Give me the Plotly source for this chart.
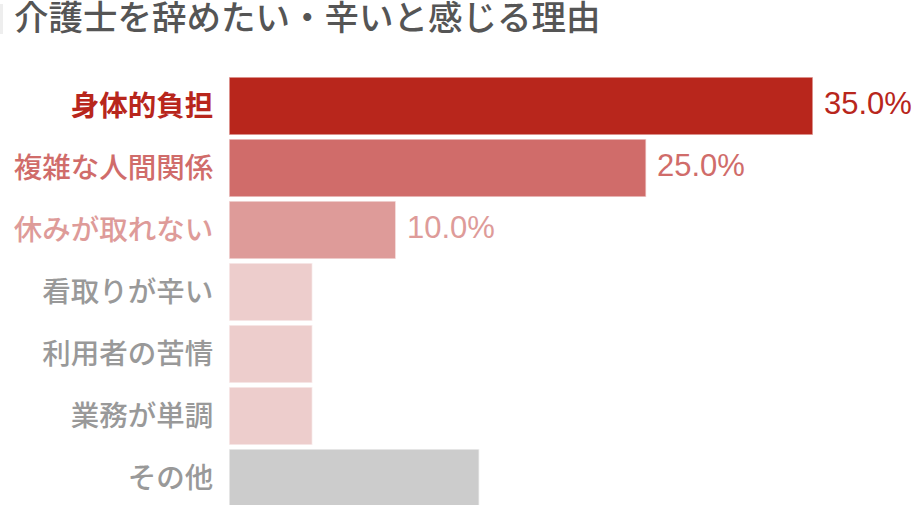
import plotly.graph_objects as go

categories = ["身体的負担", "複雑な人間関係", "休みが取れない", "看取りが辛い", "利用者の苦情", "業務が単調", "その他"]
values = [35, 25, 10, 5, 5, 5, 15]
value_labels = ["35.0%", "25.0%", "10.0%", "", "", "", ""]
bar_colors = ["#B8261C", "#D06C6A", "#DE9B99", "#EDCDCC", "#EDCDCC", "#EDCDCC", "#CCCCCC"]
label_colors = ["#B8261C", "#D06C6A", "#DE9B99", "#999999", "#999999", "#999999", "#999999"]
title_text = "介護士を辞めたい・辛いと感じる理由"

W, H = 921, 505
ML, MR, MT, MB = 229, 0, 75, 0

fig = go.Figure()
fig.add_trace(go.Bar(
    x=values,
    y=categories,
    orientation="h",
    marker=dict(color=bar_colors, line=dict(color="rgba(255,255,255,0.65)", width=1.5)),
    hoverinfo="skip",
    showlegend=False,
))

tickvals = categories
ticktext = []
for i, (c, col) in enumerate(zip(categories, label_colors)):
    if i == 0:
        ticktext.append(f"<span style='color:{col}'><b>{c}</b></span>")
    else:
        ticktext.append(f"<span style='color:{col}'>{c}</span>")

for c, v, t, col in zip(categories, values, value_labels, label_colors):
    if t:
        fig.add_annotation(
            x=v, y=c, text=t, showarrow=False, xanchor="left", yanchor="middle",
            xshift=9, yshift=3,
            font=dict(family="Liberation Sans, Arial, sans-serif", size=31, color=col),
        )

plot_w = W - ML - MR
plot_h = H - MT - MB
slot = 62.0

# faint accent strip at the very left of the title row
fig.add_shape(
    type="rect", xref="paper", yref="paper",
    x0=-ML / plot_w, x1=(-ML + 3) / plot_w,
    y0=1 + (MT - 34) / plot_h, y1=1 + (MT - 4) / plot_h,
    fillcolor="#EEEEEE", line=dict(width=0), layer="above",
)

fig.update_layout(
    width=W, height=H,
    margin=dict(l=ML, r=MR, t=MT, b=MB, pad=0, autoexpand=False),
    paper_bgcolor="white", plot_bgcolor="white",
    bargap=0.065,
    font=dict(family="Noto Sans CJK JP", size=28.5, color="#999999"),
    title=dict(
        text=title_text, x=14 / W, xref="container", xanchor="left",
        y=1, yref="container", yanchor="top", pad=dict(t=6, l=0),
        font=dict(family="Noto Sans CJK JP", size=34.5, color="#555555", weight=500),
        automargin=False,
    ),
    xaxis=dict(range=[0, plot_w / (584 / 35)], visible=False, fixedrange=True, automargin=False),
    yaxis=dict(
        type="category", categoryorder="array", categoryarray=categories,
        range=[plot_h / slot - 0.5, -0.5], tickmode="array", tickvals=tickvals, ticktext=ticktext,
        ticks="outside", ticklen=9, tickcolor="rgba(0,0,0,0)",
        showline=False, showgrid=False, zeroline=False, automargin=False,
        tickfont=dict(family="Noto Sans CJK JP", size=28.5, weight=500),
        fixedrange=True,
    ),
)

fig.write_html(
    "out.html",
    config={"displayModeBar": False, "staticPlot": True},
    post_script="document.body.style.margin='0px';document.body.style.overflow='hidden';",
)
